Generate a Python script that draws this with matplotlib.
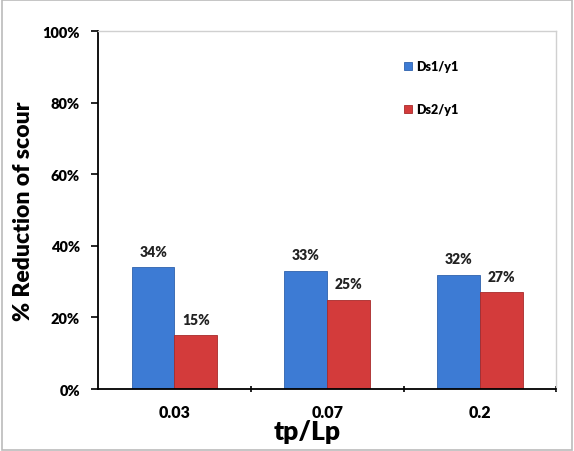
import matplotlib.pyplot as plt
import numpy as np
from matplotlib.patches import Rectangle

categorias = ['0.03', '0.07', '0.2']
ds1_y1 = [34, 33, 32]
ds2_y1 = [15, 25, 27]
rotulos_y = ['0%', '20%', '40%', '60%', '80%', '100%']

plt.rcParams['font.family'] = ['Lato', 'DejaVu Sans']

fig = plt.figure(figsize=(5.74, 4.52), dpi=100)
ax = fig.add_axes([0.171, 0.137, 0.798, 0.792])

x = np.arange(len(categorias))
largura = 0.28
azul = '#3d7bd4'
vermelho = '#d33b3b'

b1 = ax.bar(x - largura / 2, ds1_y1, largura, color=azul, edgecolor='#2f62ad', linewidth=0.6, label='Ds1/y1')
b2 = ax.bar(x + largura / 2, ds2_y1, largura, color=vermelho, edgecolor='#a82a2a', linewidth=0.6, label='Ds2/y1')

for barras, valores in ((b1, ds1_y1), (b2, ds2_y1)):
    for barra, v in zip(barras, valores):
        ax.annotate(f'{v}%', (barra.get_x() + barra.get_width() / 2, v),
                    xytext=(0, 11.5), textcoords='offset points', ha='center', va='center',
                    fontsize=10, fontweight='heavy', color='#222222')

ax.set_xlim(-0.5, 2.5)
ax.set_ylim(0, 100)
ax.set_yticks(range(0, 101, 20))
ax.set_yticklabels(rotulos_y, fontsize=10.5, fontweight='heavy')
ax.set_xticks(x)
ax.set_xticklabels(categorias, fontsize=11.5, fontweight='heavy')
ax.tick_params(axis='x', length=0, pad=11)
ax.set_xticks([0.5, 1.5, 2.5], minor=True)
ax.tick_params(axis='x', which='minor', length=5, width=1.2, direction='inout')
ax.tick_params(axis='y', length=5, width=1.2, direction='out', pad=8)

ax.set_xlabel('tp/Lp', fontsize=19, fontweight='heavy')
ax.xaxis.set_label_coords(0.456, -0.083)
ax.set_ylabel('% Reduction of scour', fontsize=16.5, fontweight='heavy', labelpad=6)

for lado in ('left', 'bottom'):
    ax.spines[lado].set_linewidth(1.3)
    ax.spines[lado].set_color('black')
for lado in ('top', 'right'):
    ax.spines[lado].set_color('#d0d0d0')
    ax.spines[lado].set_linewidth(1.0)

leg = ax.legend(loc='upper right', bbox_to_anchor=(0.81, 0.95), frameon=False,
                handlelength=0.6, handleheight=0.6, handletextpad=0.3,
                labelspacing=2.5, prop={'weight': 'heavy', 'size': 9})

fig.patches.append(Rectangle((0.003, 0.003), 0.994, 0.994, transform=fig.transFigure,
                             fill=False, edgecolor='#bbbbbb', linewidth=1.2))

fig.savefig('out.png', dpi=100)
